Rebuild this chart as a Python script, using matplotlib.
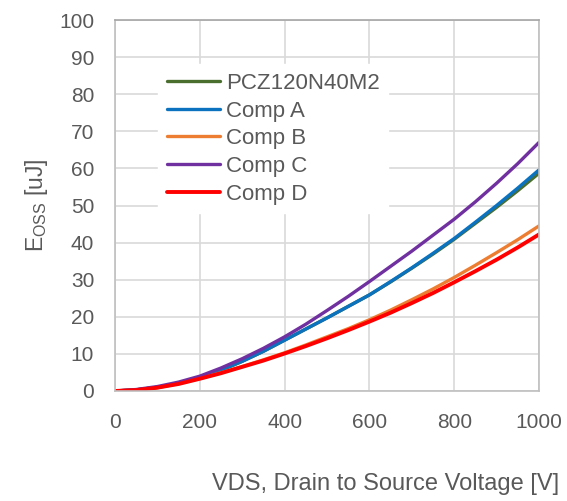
import numpy as np
import matplotlib.pyplot as plt

# napiecie VDS [V]
vds = [0, 50, 100, 150, 200, 250, 300, 350, 400, 450, 500,
       550, 600, 650, 700, 750, 800, 850, 900, 950, 1000]

# Eoss [uJ]
pcz = [0, 0.3, 1.0, 2.1, 3.6, 5.6, 8.0, 10.7, 13.7, 16.7, 19.7,
       22.8, 25.9, 29.4, 33.1, 36.9, 40.9, 45.2, 49.5, 54.0, 58.7]
comp_a = [0, 0.3, 1.0, 2.1, 3.6, 5.6, 8.0, 10.7, 13.7, 16.7, 19.7,
          22.8, 25.9, 29.5, 33.2, 37.1, 41.1, 45.5, 50.0, 54.7, 59.6]
comp_b = [0, 0.25, 0.9, 2.0, 3.4, 4.9, 6.6, 8.4, 10.3, 12.4, 14.6,
          16.8, 19.2, 21.8, 24.6, 27.5, 30.6, 33.9, 37.3, 40.8, 44.5]
comp_c = [0, 0.4, 1.2, 2.4, 4.0, 6.2, 8.7, 11.5, 14.6, 18.0, 21.7,
          25.5, 29.5, 33.6, 37.7, 42.0, 46.3, 51.0, 56.0, 61.3, 67.0]
comp_d = [0, 0.25, 0.9, 1.9, 3.3, 4.8, 6.5, 8.2, 10.1, 12.1, 14.2,
          16.4, 18.7, 21.1, 23.7, 26.4, 29.3, 32.3, 35.4, 38.7, 42.2]

names = ["PCZ120N40M2", "Comp A", "Comp B", "Comp C", "Comp D"]
series = [pcz, comp_a, comp_b, comp_c, comp_d]
colors = ["#4A6E2E", "#0A72BF", "#ED7D31", "#7030A0", "#FF0000"]
widths = [2.4, 2.4, 2.4, 2.4, 2.8]

xticks = [0, 200, 400, 600, 800, 1000]
yticks = list(range(0, 101, 10))

plt.rcParams['font.family'] = ['Liberation Sans', 'DejaVu Sans']

fig = plt.figure(figsize=(5.67, 5.01), dpi=100)
ax = fig.add_axes([115 / 567, 1 - 391 / 501, 424 / 567, 371 / 501])

for name, ys, c, w in zip(names, series, colors, widths):
    ax.plot(vds, ys, color=c, lw=w, label=name, solid_capstyle='round')

ax.set_xlim(0, 1000)
ax.set_ylim(0, 100)
ax.set_xticks(xticks)
ax.set_yticks(yticks)
ax.grid(True, color='#D9D9D9', lw=1.2)
ax.set_axisbelow(True)
for s in ax.spines.values():
    s.set_color('#BFBFBF')
    s.set_linewidth(1.2)
ax.spines['top'].set_color('#A6A6A6')
ax.tick_params(length=0, labelsize=15, colors='#595959', pad=15)
ax.tick_params(axis='x', pad=16)

leg = ax.legend(loc='upper left', bbox_to_anchor=(43 / 424, 1 - 44 / 371),
                frameon=True, fontsize=16, handlelength=2.4, handletextpad=0.25,
                labelspacing=0.3, borderpad=0.4, borderaxespad=0, fancybox=False)
leg.get_frame().set_edgecolor('white')
leg.get_frame().set_facecolor('white')
leg.get_frame().set_alpha(1)
for t in leg.get_texts():
    t.set_color('#595959')

fig.text(37 / 567, 1 - 205 / 501, r'E$_{\mathregular{OSS}}$ [uJ]', rotation=90,
         ha='center', va='center', fontsize=16.5, color='#595959')
fig.text(386 / 567, 1 - 484 / 501, 'VDS, Drain to Source Voltage [V]',
         ha='center', va='center', fontsize=17, color='#595959')

fig.savefig('out.png', dpi=100)
